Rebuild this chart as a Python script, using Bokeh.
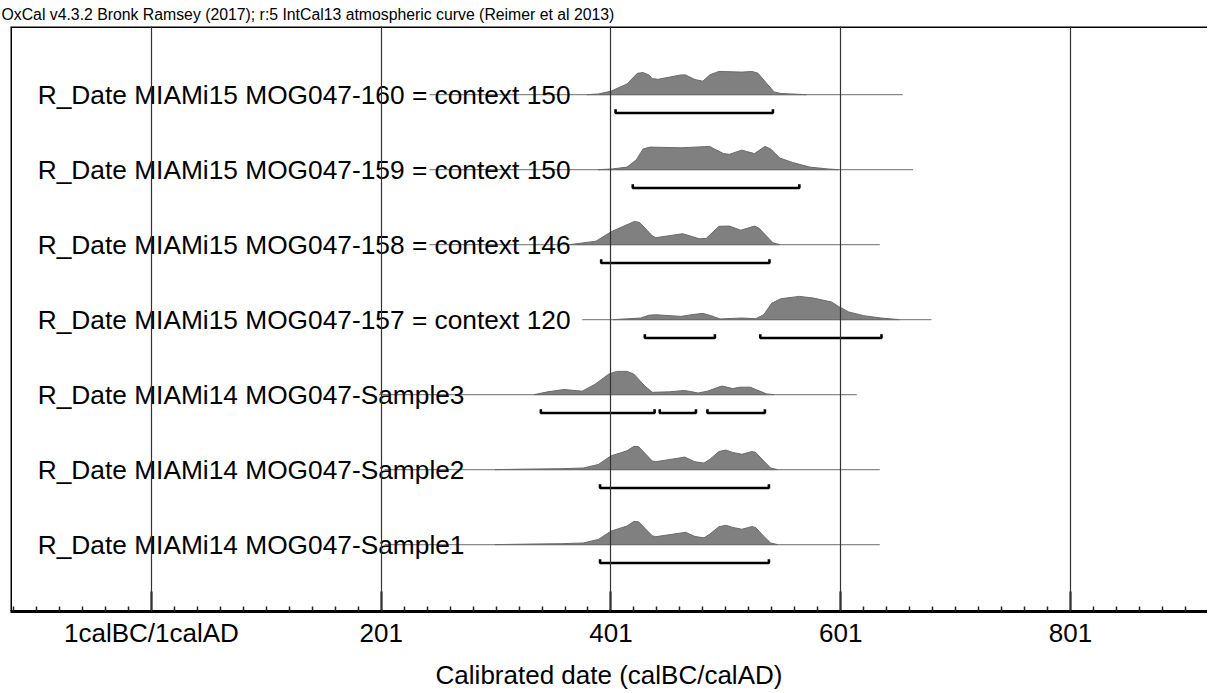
from bokeh.plotting import figure
from bokeh.models import Range1d, FixedTicker, Span
from bokeh.embed import file_html
from bokeh.resources import INLINE
from bokeh.core.properties import value

# ---------------- data ----------------
title_text = "OxCal v4.3.2 Bronk Ramsey (2017); r:5 IntCal13 atmospheric curve (Reimer et al 2013)"
x_axis_title = "Calibrated date (calBC/calAD)"

labels = [
    "R_Date MIAMi15 MOG047-160 = context 150",
    "R_Date MIAMi15 MOG047-159 = context 150",
    "R_Date MIAMi15 MOG047-158 = context 146",
    "R_Date MIAMi15 MOG047-157 = context 120",
    "R_Date MIAMi14 MOG047-Sample3",
    "R_Date MIAMi14 MOG047-Sample2",
    "R_Date MIAMi14 MOG047-Sample1",
]

major_ticks = [1, 201, 401, 601, 801]
tick_labels = ["1calBC/1calAD", "201", "401", "601", "801"]
minor_ticks = [-119, -99, -79, -59, -39, -19, 21, 41, 61, 81, 101, 121, 141, 161, 181,
               221, 241, 261, 281, 301, 321, 341, 361, 381, 421, 441, 461, 481, 501,
               521, 541, 561, 581, 621, 641, 661, 681, 701, 721, 741, 761, 781,
               821, 841, 861, 881, 901]

# calendar years (calAD) and relative probability for each distribution
yrs0 = [380, 390, 401, 415, 424, 429, 434, 437, 442, 462, 466, 474, 481, 487, 495, 515, 524, 529, 537, 543, 549, 571]
p0 = [0, 0.03, 0.15, 0.46, 0.92, 0.95, 0.85, 0.69, 0.66, 0.85, 0.85, 0.65, 0.58, 0.85, 1.0, 0.97, 1.0, 0.92, 0.46, 0.12, 0.05, 0]

yrs1 = [390, 402, 415, 423, 429, 435, 462, 487, 491, 499, 504, 515, 520, 526, 535, 540, 548, 559, 574, 590, 599]
p1 = [0, 0.03, 0.11, 0.42, 0.89, 0.97, 0.94, 1.0, 0.89, 0.69, 0.66, 0.84, 0.77, 0.69, 1.0, 0.89, 0.5, 0.31, 0.11, 0.03, 0]

yrs2 = [365, 388, 401, 421.5, 426, 437, 440, 463.5, 478, 484, 495, 504, 514, 526, 530, 542, 548]
p2 = [0, 0.15, 0.55, 1.0, 0.95, 0.38, 0.3, 0.47, 0.25, 0.27, 0.79, 0.8, 0.62, 0.8, 0.7, 0.08, 0]

yrs3 = [403, 427, 434, 440, 462, 471, 481, 488, 496, 515, 527, 534, 541, 549, 565, 577, 593, 599, 608, 621, 636, 652]
p3 = [0, 0.07, 0.19, 0.21, 0.14, 0.21, 0.27, 0.17, 0.03, 0.07, 0.04, 0.21, 0.71, 0.9, 1.0, 0.93, 0.76, 0.57, 0.33, 0.17, 0.07, 0]

yrs4 = [334, 346, 360, 376, 387, 399, 406, 415, 421, 430.5, 437, 452, 465, 477, 485, 497.5, 507, 513, 522.5, 527, 536.5, 543]
p4 = [0, 0.12, 0.22, 0.15, 0.44, 0.88, 1.0, 1.0, 0.88, 0.37, 0.1, 0.12, 0.18, 0.07, 0.15, 0.37, 0.26, 0.32, 0.32, 0.22, 0.03, 0]

yrs5 = [300, 340, 358, 377, 390, 401, 415, 421, 425, 437, 440, 462, 465, 474, 482, 487, 495, 501, 507, 515, 524, 527, 534, 540, 546]
p5 = [0, 0.03, 0.04, 0.07, 0.22, 0.59, 0.81, 1.0, 0.99, 0.37, 0.34, 0.51, 0.54, 0.34, 0.28, 0.44, 0.78, 0.84, 0.74, 0.66, 0.78, 0.74, 0.37, 0.07, 0]

yrs6 = [300, 340, 358, 377, 390, 401, 415, 421, 425, 437, 440, 462, 466, 474, 482, 487, 495, 501, 507, 515, 524, 527, 534, 540, 546]
p6 = [0, 0.03, 0.04, 0.07, 0.22, 0.58, 0.80, 1.0, 0.98, 0.38, 0.34, 0.50, 0.53, 0.35, 0.29, 0.45, 0.77, 0.83, 0.74, 0.66, 0.78, 0.73, 0.36, 0.07, 0]

# 95.4% ranges (brackets) per row
ranges0 = [(405, 542)]
ranges1 = [(420, 565)]
ranges2 = [(392.5, 539)]
ranges3 = [(430.5, 491.5), (531, 636.5)]
ranges4 = [(340, 439), (443.5, 475), (485, 535)]
ranges5 = [(391.5, 538.5)]
ranges6 = [(391.5, 538.5)]

# extent of the calculated distribution (thin baseline)
line_start = [243, 243, 243, 376, 199, 204, 204]
line_end = [655, 664, 635, 680, 615, 635, 635]

# ---------------- styling / layout ----------------
FONT = "Liberation Sans"
PEAK_H = 0.31        # height of a peak in row units
BR_OFF = 0.245       # bracket offset below baseline
BR_TICK = 0.05       # bracket end tick height
LABEL_X = -98
X0, X1 = -121.7, 920.3
Y0, Y1 = -0.892, 6.909

dists = [(yrs0, p0), (yrs1, p1), (yrs2, p2), (yrs3, p3), (yrs4, p4), (yrs5, p5), (yrs6, p6)]
ranges = [ranges0, ranges1, ranges2, ranges3, ranges4, ranges5, ranges6]
n = len(labels)
rows = [n - 1 - i for i in range(n)]

p = figure(width=1207, height=692,
           x_range=Range1d(X0, X1), y_range=Range1d(Y0, Y1),
           output_backend="svg", toolbar_location=None,
           x_axis_location="below", y_axis_location=None,
           min_border_left=10, min_border_right=0, min_border_top=26, min_border_bottom=80)
p.outline_line_color = None
p.background_fill_color = "white"
p.border_fill_color = "white"

p.title.text = title_text
p.title.align = "left"
p.title.text_font = FONT
p.title.text_font_size = "15.8px"
p.title.text_font_style = "normal"
p.title.text_color = "black"
p.title.standoff = 7
p.title.offset = -9

# grid
p.ygrid.visible = False
p.xgrid.ticker = FixedTicker(ticks=major_ticks)
p.xgrid.grid_line_color = "#333333"
p.xgrid.grid_line_width = 1.2
p.xgrid.level = "overlay"

# axis
ax = p.xaxis[0]
ax.ticker = FixedTicker(ticks=major_ticks, minor_ticks=minor_ticks)
ax.major_label_overrides = {t: l for t, l in zip(major_ticks, tick_labels)}
ax.axis_line_width = 3
ax.axis_line_color = "black"
ax.major_tick_in = 20
ax.major_tick_out = 0
ax.major_tick_line_width = 2
ax.minor_tick_in = 5
ax.minor_tick_out = 0
ax.minor_tick_line_width = 1.5
ax.minor_tick_line_color = "#222222"
ax.major_label_text_font = FONT
ax.major_label_text_font_size = "26px"
ax.major_label_text_color = "black"
ax.major_label_standoff = 6
ax.axis_label = x_axis_title
ax.axis_label_text_font = FONT
ax.axis_label_text_font_size = "26px"
ax.axis_label_text_font_style = "normal"
ax.axis_label_text_color = "black"
ax.axis_label_standoff = 9

# frame lines (top and left only)
p.add_layout(Span(location=Y1, dimension="width", line_color="black", line_width=3))
p.add_layout(Span(location=X0, dimension="height", line_color="black", line_width=3))

# baselines
p.segment(x0=line_start, x1=line_end, y0=rows, y1=rows, line_color="#8a8a8a", line_width=1.3)

# distributions
pxs, pys = [], []
for (yrs, pr), r in zip(dists, rows):
    pxs.append(list(yrs))
    pys.append([r + PEAK_H * v for v in pr])
p.patches(xs=pxs, ys=pys, fill_color="#808080", fill_alpha=1.0,
          line_color="#6a6a6a", line_width=1)

# labels
p.text(x=[LABEL_X] * n, y=rows, text=labels, text_font=value(FONT),
       text_font_size=value("26.3px"), text_color="black",
       text_baseline="middle", text_align="left")

# brackets
bxs, bys = [], []
for rr, r in zip(ranges, rows):
    for a, b in rr:
        yb = r - BR_OFF
        bxs.append([a, a, b, b])
        bys.append([yb + BR_TICK, yb, yb, yb + BR_TICK])
p.multi_line(xs=bxs, ys=bys, line_color="black", line_width=2.6)

open("out.html", "w").write(file_html(p, INLINE))
